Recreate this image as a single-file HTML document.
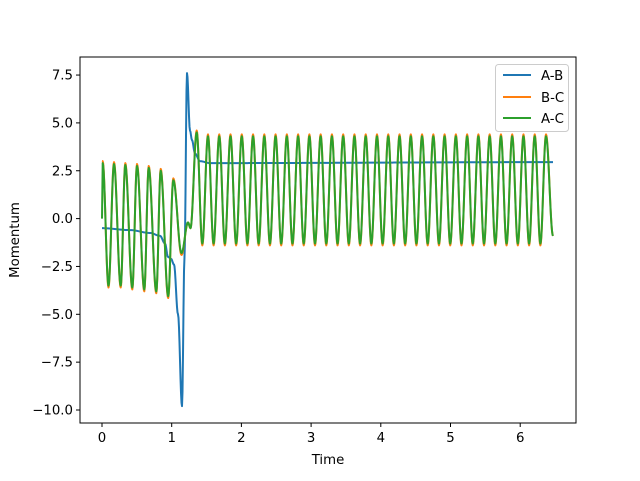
<!DOCTYPE html>
<html><head><meta charset="utf-8"><style>
body{margin:0;background:#fff}
svg text{font-family:"DejaVu Sans","Liberation Sans",sans-serif;font-size:13.3px;fill:#000}
</style></head><body>
<svg id="s" width="640" height="476" xmlns="http://www.w3.org/2000/svg">
<rect width="640" height="476" fill="#fff"/>
<g id="lines"></g>
<rect x="80" y="57" width="496" height="366" fill="none" stroke="#000" stroke-width="1"/>
<g id="ticks" stroke="#000" stroke-width="1"></g>
<g id="labels"></g>
<text x="328" y="464" text-anchor="middle">Time</text>
<text transform="translate(19,240) rotate(-90)" text-anchor="middle">Momentum</text>
<rect x="495.5" y="64.5" width="73" height="67" rx="3" fill="#fff" fill-opacity="0.8" stroke="#ccc"/>
<line x1="503" y1="75" x2="531" y2="75" stroke="#1f77b4" stroke-width="2"/>
<line x1="503" y1="97" x2="531" y2="97" stroke="#ff7f0e" stroke-width="2"/>
<line x1="503" y1="118" x2="531" y2="118" stroke="#2ca02c" stroke-width="2"/>
<text x="541" y="80">A-B</text>
<text x="541" y="102">B-C</text>
<text x="541" y="123">A-C</text>
</svg>
<script>
const Y=v=>218.6-v*19.14;
const ns="http://www.w3.org/2000/svg";
const T=document.getElementById('ticks'),L=document.getElementById('labels');
for(let k=0;k<=6;k++){const x=102+69.7*k;T.innerHTML+=`<line x1="${x}" y1="423" x2="${x}" y2="427"/>`;L.innerHTML+=`<text x="${x}" y="442" text-anchor="middle">${k}</text>`;}
for(let k=-4;k<=3;k++){const v=k*2.5,y=Y(v);T.innerHTML+=`<line x1="76" y1="${y}" x2="80" y2="${y}"/>`;L.innerHTML+=`<text x="73" y="${y+4.5}" text-anchor="end">${v.toFixed(1).replace('-','\u2212')}</text>`;}
function build(ext,d){
 let pts=[];
 for(let i=0;i<ext.length-1;i++){const [x0,v0]=ext[i],[x1,v1]=ext[i+1];
  const n=Math.max(2,Math.ceil((x1-x0)*2));
  for(let j=0;j<n;j++){const f=j/n,g=(1-Math.cos(Math.PI*f))/2;pts.push([x0+(x1-x0)*f,v0+(v1-v0)*g]);}}
 pts.push(ext[ext.length-1]);
 return pts.map(p=>p[0].toFixed(2)+','+Y(p[1]).toFixed(2)).join(' ');
}
function osc(d,start){
 let e=[start];
 const px=[102.7,114,125.3,137,148.7,160.7,173.3],pv=[2.9,2.85,2.8,2.75,2.65,2.5,2.0];
 const tx=[108.5,120.7,132.3,144.3,156.3,168.2],tv=[-3.5,-3.5,-3.6,-3.7,-3.8,-4.05];
 for(let i=0;i<7;i++){e.push([px[i],pv[i]+d]);if(i<6)e.push([tx[i],tv[i]-d]);}
 e.push([181.5,-1.8-d],[188,-0.2],[190.5,-0.5],[196.7,4.5+d]);
 const p=(546-196.7)/31;
 for(let k=1;k<=31;k++){e.push([196.7+(k-0.5)*p,-1.3-d]);e.push([196.7+k*p,4.3+d]);}
 e.push([553,-0.9]);
 return build(e);
}
const blue=build([[102,-0.5],[130,-0.6],[150,-0.75],[160,-0.9],[165,-1.3],[168,-2.0],[171,-2.1],[174,-2.4],[178,-5],[182,-9.8],[184.5,-2],[187,7.6],[190,4.6],[192,4.1],[195,3.4],[200,3.0],[210,2.9],[553,2.95]]);
const g=document.getElementById('lines');
g.innerHTML=`<polyline points="${blue}" fill="none" stroke="#1f77b4" stroke-width="2" stroke-linejoin="round"/>
<polyline points="${osc(0.1,[102,3.0])}" fill="none" stroke="#ff7f0e" stroke-width="2" stroke-linejoin="round"/>
<polyline points="${osc(0,[102,0])}" fill="none" stroke="#2ca02c" stroke-width="2" stroke-linejoin="round"/>`;
</script>
</body></html>
